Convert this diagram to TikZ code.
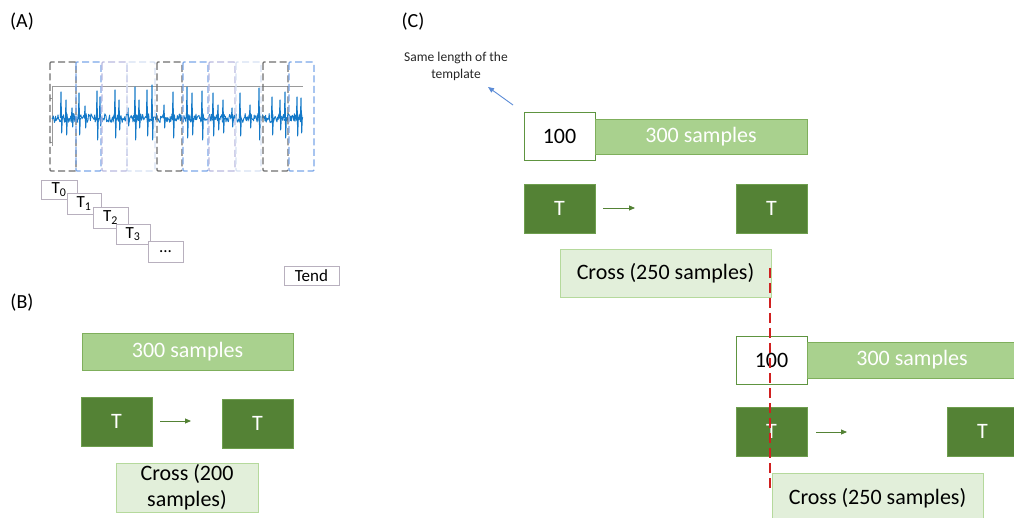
\documentclass[tikz,border=0pt]{standalone}
\usepackage{fontspec}
\setmainfont{Carlito}
\usetikzlibrary{arrows.meta}
\definecolor{barfill}{HTML}{A9D18E}
\definecolor{barline}{HTML}{7FAF5C}
\definecolor{tfill}{HTML}{548235}
\definecolor{tline}{HTML}{6E9E4E}
\definecolor{crossfill}{HTML}{E2EFDA}
\definecolor{crossline}{HTML}{B5D99C}
\definecolor{hundline}{HTML}{5E9440}
\definecolor{sig}{HTML}{1479C8}
\definecolor{dgrey}{HTML}{6E6E6E}
\definecolor{dblue}{HTML}{7AA6E8}
\definecolor{dlav}{HTML}{B9B9DF}
\definecolor{dlight}{HTML}{D6E0F2}
\definecolor{tbox}{HTML}{B8B0BE}
\definecolor{redline}{HTML}{D02020}
\definecolor{bluearrow}{HTML}{5B8BD6}
\definecolor{axisgrey}{HTML}{9A9A9A}
\begin{document}
\begin{tikzpicture}[x=1pt,y=-1pt,
  box/.style={anchor=north west, inner sep=0pt, outer sep=0pt},
  big/.style={font=\fontsize{22}{26}\selectfont},
  bar/.style={box, big, fill=barfill, draw=barline, line width=0.9pt, text=white},
  tnode/.style={box, big, fill=tfill, draw=tline, line width=0.8pt, text=white, minimum width=71pt, minimum height=49pt},
  hund/.style={box, big, fill=white, draw=hundline, line width=0.9pt, minimum width=71pt, minimum height=48pt},
  crossbox/.style={box, big, fill=crossfill, draw=crossline, line width=0.9pt, align=center},
  tmpl/.style={box, fill=white, draw=tbox, line width=0.8pt, font=\fontsize{17}{19}\selectfont},
  panel/.style={font=\fontsize{20}{24}\selectfont},
  garrow/.style={draw=tfill, line width=0.9pt, -{Triangle[length=6pt,width=5pt]}},
  dbox/.style={dashed, dash pattern=on 7pt off 3.5pt, line width=1.4pt, rounded corners=1pt}
]
\useasboundingbox (0,0) rectangle (1014,518);
\clip (0,0) rectangle (1014,518);

% ---------------- Panel A ----------------
\node[panel] (labA) at (22,22) {(A)};
% axis
\draw[axisgrey, line width=0.6pt] (52,86) -- (303,86);
\draw[axisgrey, line width=0.6pt] (52,86) -- (52,146);
\foreach \yy in {98,142} \draw[axisgrey, line width=0.6pt] (50,\yy) -- (52,\yy);
% noise
\pgfmathsetseed{7}
\draw[sig, line width=0.9pt, line join=round] (52,118)
  \foreach \xx in {52.6,53.2,...,303} { -- (\xx,{118+4.5*rand}) };
% spikes
\foreach \s/\u/\d in {61/92/133,66/100/135,72/108/127,79/93/135,85/106/128,97/91/140,100/97/126,
  115/90/138,119/100/130,128/108/126,135/87/140,139/100/128,147/90/136,152/85/140,164/105/128,173/92/138,
  187/87/138,192/93/135,202/91/140,213/93/136,218/105/130,223/100/133,232/108/127,240/93/136,250/105/128,
  259/88/140,272/97/135,280/100/130,285/92/138,297/97/136,301/98/133}
  \draw[sig, line width=1pt, line join=round] (\s-0.6,118) -- (\s,\u) -- (\s+0.7,\d) -- (\s+1.3,118);
% dashed windows
\foreach \a/\b/\c in {50/76/dgrey,76/101/dblue,102/127/dlav,127/155/dlight,157/182/dgrey,
  183/208/dblue,209/235/dlav,236/261/dlight,263/288/dgrey,289/314/dblue}
  \draw[dbox, \c] (\a,62) rectangle (\b,171);
% template boxes
\node[tmpl, minimum width=36pt, minimum height=19pt] (t0) at (41,180) {T\textsubscript{0}};
\node[tmpl, minimum width=34pt, minimum height=21pt] (t1) at (67,193) {T\textsubscript{1}};
\node[tmpl, minimum width=35pt, minimum height=21pt] (t2) at (93,207) {T\textsubscript{2}};
\node[tmpl, minimum width=34pt, minimum height=20pt] (t3) at (116,224) {T\textsubscript{3}};
\node[tmpl, minimum width=35pt, minimum height=21pt] (tdots) at (148,241) {...};
\node[tmpl, minimum width=55pt, minimum height=19pt] (tend) at (284,266) {Tend};

% ---------------- Panel B ----------------
\node[panel] (labB) at (22,303) {(B)};
\node[bar, minimum width=211pt, minimum height=37pt] (barB) at (82,333) {300 samples};
\node[tnode] (tB1) at (81,397) {T};
\node[tnode] (tB2) at (222,399) {T};
\coordinate (aB1) at (160,421);
\coordinate (aB2) at (191,421);
\draw[garrow] (aB1) -- (aB2);
\node[crossbox, minimum width=142pt, minimum height=49pt] (crB) at (116,463) {Cross (200\\samples)};

% ---------------- Panel C ----------------
\node[panel] (labC) at (413,22) {(C)};
\node[align=center, text=black!85, font=\fontsize{13.5}{17}\selectfont, inner sep=1pt] (same) at (456,66) {Same length of the\\template};
\coordinate (bS) at (513,105);
\coordinate (bE) at (488,87);
\draw[bluearrow, line width=0.9pt, -{Triangle[length=6pt,width=5pt]}] (bS) -- (bE);

% row 1
\node[hund] (h1) at (524,112) {100};
\node[bar, minimum width=212pt, minimum height=35pt] (bar1) at (595,119) {300 samples};
\node[tnode] (tC1) at (524,184) {T};
\node[tnode] (tC2) at (736,184) {T};
\coordinate (aC1) at (603,208);
\coordinate (aC2) at (635,208);
\draw[garrow] (aC1) -- (aC2);
\node[crossbox, minimum width=211pt, minimum height=48pt] (cr1) at (560,249) {Cross (250 samples)};

% row 2
\node[hund] (h2) at (736,336) {100};
\node[bar, minimum width=210pt, minimum height=36pt] (bar2) at (807,342) {300 samples};
\node[tnode] (tD1) at (736,407) {T};
\node[tnode] (tD2) at (947,407) {T};
\coordinate (aD1) at (816,432);
\coordinate (aD2) at (847,432);
\draw[garrow] (aD1) -- (aD2);
\node[crossbox, minimum width=211pt, minimum height=50pt] (cr2) at (772,473) {Cross (250 samples)};

% red dashed marker
\coordinate (rTop) at (770,268);
\coordinate (rBot) at (770,492);
\draw[redline, line width=1.5pt, dash pattern=on 10pt off 5pt] (rTop) -- (rBot);
\end{tikzpicture}
\end{document}
